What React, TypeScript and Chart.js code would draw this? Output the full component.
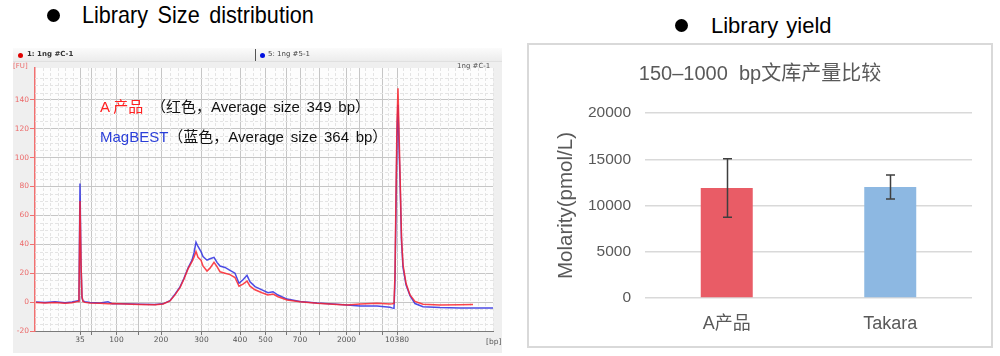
import React, { useEffect, useRef } from "react";
import { Chart, registerables } from "chart.js";

Chart.register(...registerables);

// ---------- Left panel: electropherogram ----------
const ladderSizes = ["35", "50", "100", "150", "200", "300", "400", "500", "600", "700", "1000", "2000", "3000", "7000", "10380"];
const ladderTimes = [49.0, 51.3, 56.3, 60.8, 65.2, 73.3, 81.0, 86.1, 90.3, 93.0, 96.8, 102.3, 104.8, 109.4, 112.4];
const labelledSizes = ["35", "100", "200", "300", "400", "500", "700", "2000", "10380"];
const fuTicks = [-20, 0, 20, 40, 60, 80, 100, 120, 140];

const migrationTime = [40.2, 42.0, 44.0, 46.0, 47.4, 48.6, 48.8, 49.0, 49.2, 49.4, 49.6, 50.0, 51.0, 53.0, 54.6, 55.4, 58.0, 61.0, 64.0, 65.6, 67.0, 68.0, 69.0, 69.8, 70.6, 71.4, 71.8, 72.2, 72.6, 73.2, 73.6, 74.4, 75.0, 75.8, 76.4, 77.0, 78.0, 79.0, 80.0, 80.8, 81.6, 82.4, 83.0, 84.0, 85.4, 86.6, 87.6, 88.6, 90.4, 93.0, 96.4, 99.6, 102.4, 105.0, 108.4, 111.0, 111.4, 111.8, 112.0, 112.2, 112.4, 112.6, 112.8, 113.0, 113.3, 113.6, 114.2, 115.0, 116.0, 117.6, 121.0, 125.0, 127.6, 131.6];
const fuProductA = [-0.3, -0.6, -0.2, -0.8, -0.5, 0.5, 5, 70, 28, 4, 0.5, -0.2, -0.6, -0.8, -1.2, -1.0, -1.3, -1.6, -1.8, -1.3, 0.8, 5, 10, 16, 23, 28, 31, 35, 31, 29, 25, 21.5, 23.5, 27.5, 24.5, 21, 20, 19, 17, 11, 12.5, 14.5, 11, 8.5, 6.5, 5, 5.6, 3.7, 1.5, 0.3, -0.8, -1.5, -2, -1.3, -0.8, -1.3, -1.2, -1.0, 20, 75, 125, 148, 118, 90, 45, 26, 13, 5, 0.5, -1.5, -2, -1.8, -1.6, null];
const fuMagBEST = [0.1, -0.3, 0.3, -0.4, 0.0, 1.0, 8, 82, 27, 3, 0.8, 0.3, -0.2, -0.6, 0.3, -1.1, -1.2, -1.5, -1.6, -1.2, 1.0, 5.5, 10.5, 16.5, 23.5, 29, 34, 41.5, 38.5, 35, 31.5, 29, 30, 31, 27.5, 25, 24, 22, 20, 13, 15.5, 18.5, 14, 10.7, 8.5, 6.5, 7.2, 4.9, 2.1, 0.4, -0.7, -1.4, -2, -2.7, -2.7, -3.6, -4.0, -4.3, 15, 65, 115, 136.5, 108, 85, 42, 24, 12, 4.5, -1, -3.2, -3.8, -4, -4, -4];

// ---------- Right panel: library yield ----------
const yieldCategories = ["A产品", "Takara"];
const yieldMeans = [11900, 12000];
const yieldErrors = [3160, 1300];
const yieldColors = ["#e95c66", "#8db8e2"];

const SANS = "'Liberation Sans', Arial, 'Noto Sans CJK SC', sans-serif";
const SMALL = "'DejaVu Sans', Verdana, sans-serif";

const electroBgPlugin = {
  id: "electroBg",
  beforeDraw(chart: any) {
    const { ctx, chartArea } = chart;
    ctx.save();
    ctx.fillStyle = "#fdfdfd";
    ctx.fillRect(chartArea.left, chartArea.top, chartArea.right - chartArea.left, chartArea.bottom - chartArea.top);
    ctx.restore();
  },
  beforeDatasetsDraw(chart: any) {
    const { ctx, chartArea, scales } = chart;
    const { left, right, top, bottom } = chartArea;
    const x = scales.x;
    const y = scales.y;
    ctx.save();
    ctx.strokeStyle = "#e4e4e4";
    ctx.lineWidth = 1;
    ctx.setLineDash([3, 2]);
    for (let v = -15; v < 162; v += 5) {
      if (v % 20 === 0) continue;
      const py = Math.round(y.getPixelForValue(v)) + 0.5;
      ctx.beginPath();
      ctx.moveTo(left, py);
      ctx.lineTo(right, py);
      ctx.stroke();
    }
    for (let t = 41.5; t < 131.6; t += 1.5) {
      if (ladderTimes.some((lt) => Math.abs(lt - t) < 0.6)) continue;
      const px = Math.round(x.getPixelForValue(t)) + 0.5;
      ctx.beginPath();
      ctx.moveTo(px, top);
      ctx.lineTo(px, bottom);
      ctx.stroke();
    }
    ctx.restore();
  },
};

function ElectroChart() {
  const ref = useRef<HTMLCanvasElement>(null);
  useEffect(() => {
    const chart = new Chart(ref.current as HTMLCanvasElement, {
      type: "line",
      data: {
        datasets: [
          {
            label: "A产品",
            data: migrationTime.map((t, i) => ({ x: t, y: fuProductA[i] })) as any,
            borderColor: "rgba(250,35,45,0.85)",
            borderWidth: 1.5,
            pointRadius: 0,
            tension: 0,
            order: 0,
          },
          {
            label: "MagBEST",
            data: migrationTime.map((t, i) => ({ x: t, y: fuMagBEST[i] })) as any,
            borderColor: "rgba(45,45,225,0.85)",
            borderWidth: 1.5,
            pointRadius: 0,
            tension: 0,
            order: 1,
          },
        ],
      },
      options: {
        responsive: false,
        animation: false,
        devicePixelRatio: 1,
        layout: { padding: { top: 20, right: 9, left: 0, bottom: 0 } },
        plugins: { legend: { display: false }, tooltip: { enabled: false }, title: { display: false } },
        scales: {
          x: {
            type: "linear",
            min: 40,
            max: 131.6,
            afterBuildTicks: (s: any) => {
              s.ticks = ladderTimes.map((v) => ({ value: v }));
            },
            afterFit: (s: any) => {
              s.height = 22;
            },
            ticks: {
              autoSkip: false,
              maxRotation: 0,
              color: "#555",
              padding: 1,
              font: { family: SMALL, size: 7.5 },
              callback: (_v: any, i: number) => (labelledSizes.includes(ladderSizes[i]) ? ladderSizes[i] : ""),
            },
            grid: { color: "#c6c6c6", lineWidth: 1, tickLength: 4, tickColor: "#777" },
            border: { color: "#7a7a7a", width: 1 },
          },
          y: {
            type: "linear",
            min: -20,
            max: 162,
            afterBuildTicks: (s: any) => {
              s.ticks = fuTicks.map((v) => ({ value: v }));
            },
            afterFit: (s: any) => {
              s.width = 22;
            },
            ticks: { color: "#ec6a6a", padding: 1, font: { family: SMALL, size: 7.5 } },
            grid: { color: "#c6c6c6", lineWidth: 1, tickLength: 5, tickColor: "#f07070" },
            border: { color: "#f07070", width: 1.5 },
          },
        },
      },
      plugins: [electroBgPlugin],
    });
    return () => chart.destroy();
  }, []);
  return (
    <canvas
      ref={ref}
      width={489}
      height={305}
      style={{ position: "absolute", left: 13, top: 48, width: 489, height: 305, background: "#efefef" }}
    />
  );
}

const errorBarPlugin = {
  id: "errorBars",
  afterDatasetsDraw(chart: any) {
    const { ctx, scales } = chart;
    const y = scales.y;
    const meta = chart.getDatasetMeta(0);
    ctx.save();
    ctx.strokeStyle = "#3f3f3f";
    ctx.lineWidth = 1.5;
    meta.data.forEach((bar: any, i: number) => {
      const x = Math.round(bar.x) + 0.5;
      const top = y.getPixelForValue(yieldMeans[i] + yieldErrors[i]);
      const bot = y.getPixelForValue(yieldMeans[i] - yieldErrors[i]);
      ctx.beginPath();
      ctx.moveTo(x, top);
      ctx.lineTo(x, bot);
      ctx.moveTo(x - 4.5, top);
      ctx.lineTo(x + 4.5, top);
      ctx.moveTo(x - 4.5, bot);
      ctx.lineTo(x + 4.5, bot);
      ctx.stroke();
    });
    ctx.restore();
  },
};

function YieldChart() {
  const ref = useRef<HTMLCanvasElement>(null);
  useEffect(() => {
    const chart = new Chart(ref.current as HTMLCanvasElement, {
      type: "bar",
      data: {
        labels: yieldCategories,
        datasets: [
          {
            label: "Molarity",
            data: yieldMeans,
            backgroundColor: yieldColors,
            borderWidth: 0,
            categoryPercentage: 1,
            barPercentage: 0.318,
          },
        ],
      },
      options: {
        responsive: false,
        animation: false,
        devicePixelRatio: 1,
        layout: { padding: { top: 0, right: 21, left: 21, bottom: 0 } },
        plugins: {
          legend: { display: false },
          tooltip: { enabled: false },
          title: {
            display: true,
            text: "150–1000  bp文库产量比较",
            color: "#595959",
            font: { family: SANS, size: 20, weight: "normal" as any },
            padding: { top: 19, bottom: 27 },
          },
        },
        scales: {
          x: {
            afterFit: (s: any) => {
              s.height = 50;
            },
            ticks: { color: "#595959", padding: 7, font: { family: SANS, size: 18 } },
            grid: { display: false },
            border: { display: false },
          },
          y: {
            min: 0,
            max: 20000,
            afterFit: (s: any) => {
              s.width = 97;
            },
            ticks: {
              stepSize: 5000,
              color: "#595959",
              padding: 14,
              font: { family: SANS, size: 15.5 },
              callback: (v: any) => String(v),
            },
            grid: { color: "#d9d9d9", lineWidth: 1.5, drawTicks: false },
            border: { display: false },
            title: {
              display: true,
              text: "Molarity(pmol/L)",
              color: "#595959",
              font: { family: SANS, size: 20.5 },
              padding: { top: 6, bottom: 0 },
            },
          },
        },
      },
      plugins: [errorBarPlugin],
    });
    return () => chart.destroy();
  }, []);
  return (
    <canvas
      ref={ref}
      width={466}
      height={305}
      style={{ position: "absolute", left: 527, top: 43, width: 466, height: 305, background: "#fff" }}
    />
  );
}

export default function App() {
  const abs = (s: React.CSSProperties): React.CSSProperties => ({ position: "absolute", whiteSpace: "nowrap", ...s });
  return (
    <div style={{ position: "fixed", left: 0, top: 0, width: 1000, height: 356, background: "#fff", overflow: "hidden", fontFamily: SANS }}>
      {/* headings */}
      <div style={abs({ left: 47, top: 9, width: 13, height: 13, borderRadius: "50%", background: "#000" })} />
      <div style={abs({ left: 82, top: 1, fontSize: 24, lineHeight: "28px", color: "#000", wordSpacing: 4, transform: "scaleX(0.9)", transformOrigin: "left center" })}>
        Library Size distribution
      </div>
      <div style={abs({ left: 675, top: 19, width: 13, height: 13, borderRadius: "50%", background: "#000" })} />
      <div style={abs({ left: 711, top: 13, fontSize: 22, lineHeight: "26px", color: "#000", wordSpacing: 2 })}>Library yield</div>

      {/* left panel */}
      <ElectroChart />
      <div style={abs({ left: 13, top: 48, width: 489, height: 13, background: "linear-gradient(#fbfbfb,#ececec)", borderBottom: "1px solid #e0e0e0" })} />
      <div style={abs({ left: 18, top: 53, width: 5, height: 5, borderRadius: "50%", background: "#e00000" })} />
      <div style={abs({ left: 27, top: 50, fontSize: 7, lineHeight: "9px", fontFamily: SMALL, fontWeight: "bold", color: "#333" })}>1: 1ng #C-1</div>
      <div style={abs({ left: 255, top: 49, width: 1, height: 12, background: "#555" })} />
      <div style={abs({ left: 260, top: 53, width: 5, height: 5, borderRadius: "50%", background: "#0010e0" })} />
      <div style={abs({ left: 268, top: 50, fontSize: 7, lineHeight: "9px", fontFamily: SMALL, color: "#444" })}>5: 1ng #5-1</div>
      <div style={abs({ left: 457, top: 62, fontSize: 7, lineHeight: "9px", fontFamily: SMALL, color: "#555" })}>1ng #C-1</div>
      <div style={abs({ left: 13, top: 62, fontSize: 7, lineHeight: "9px", fontFamily: SMALL, color: "#ec6a6a" })}>[FU]</div>
      <div style={abs({ left: 486, top: 337, fontSize: 7.5, lineHeight: "9px", fontFamily: SMALL, color: "#555" })}>[bp]</div>

      <div style={abs({ left: 100, top: 98, fontSize: 15, lineHeight: "18px", color: "#ff2020" })}>A 产品</div>
      <div style={abs({ left: 151, top: 98, fontSize: 15, lineHeight: "18px", color: "#111", wordSpacing: 2.5 })}>（红色，Average size 349 bp）</div>
      <div style={abs({ left: 100, top: 128, fontSize: 15, lineHeight: "18px", color: "#111", wordSpacing: 2.5 })}>
        <span style={{ color: "#2a3ed8" }}>MagBEST</span>（蓝色，Average size 364 bp）
      </div>

      {/* right panel */}
      <YieldChart />
      <div style={abs({ left: 527, top: 43, width: 466, height: 305, boxSizing: "border-box", border: "2px solid #d9d9d9", pointerEvents: "none" })} />
    </div>
  );
}
